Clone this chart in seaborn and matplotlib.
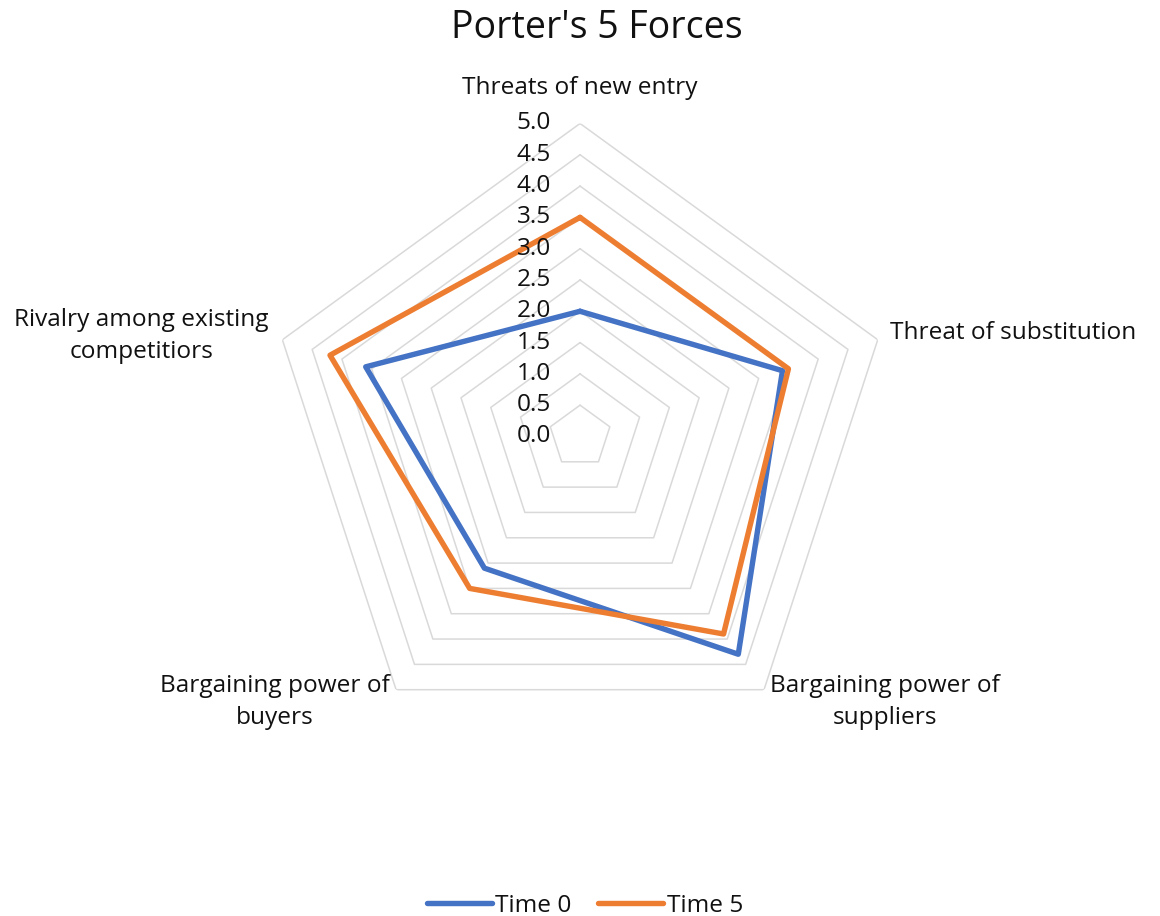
import numpy as np
import pandas as pd
import matplotlib
matplotlib.use("Agg")
import matplotlib.pyplot as plt
import seaborn as sns

# data
categories = ["Threats of new entry", "Threat of substitution",
              "Bargaining power of\nsuppliers", "Bargaining power of\nbuyers",
              "Rivalry among existing\ncompetitiors"]
time0 = [2.0, 3.4, 4.3, 2.6, 3.6]
time5 = [3.5, 3.5, 3.9, 3.0, 4.2]
series_names = ["Time 0", "Time 5"]
levels = [0.0, 0.5, 1.0, 1.5, 2.0, 2.5, 3.0, 3.5, 4.0, 4.5, 5.0]

sns.set_theme(style="white")
plt.rcParams['font.family'] = ['Open Sans', 'DejaVu Sans']
txt = "#111111"
fs = 17.6

n = len(categories)
theta = np.linspace(0, 2 * np.pi, n, endpoint=False)
theta_closed = np.append(theta, theta[0] + 2 * np.pi)

rows = []
for name, vals in zip(series_names, [time0, time5]):
    closed = list(vals) + [vals[0]]
    for t, v in zip(theta_closed, closed):
        rows.append({"theta": t, "value": v, "series": name})
df = pd.DataFrame(rows)

fig = plt.figure(figsize=(11.6, 9.16), dpi=100)
ax = fig.add_axes([0.2302, 0.1818, 0.5397, 0.6834], projection="polar")
ax.set_theta_offset(np.pi / 2)
ax.set_theta_direction(-1)
ax.grid(False)
ax.set_xticks([])
ax.set_yticks([])
ax.spines['polar'].set_visible(False)

# pentagon gridlines
for r in levels[1:]:
    ax.plot(theta_closed, [r] * len(theta_closed), color="#d9d9d9", lw=1.1, zorder=1)

sns.lineplot(data=df, x="theta", y="value", hue="series", sort=False, estimator=None,
             palette=["#4472C4", "#ED7D31"], linewidth=3.9, ax=ax, zorder=3)
ax.set_ylim(0, 5)
ax.set_xlabel("")
ax.set_ylabel("")

handles, labels = ax.get_legend_handles_labels()
ax.get_legend().remove()

# radial value labels along the top axis
for r in levels:
    ax.annotate(f"{r:.1f}", xy=(0, r), xytext=(-29, 0), textcoords="offset pixels",
                ha="right", va="center", fontsize=fs, color=txt, annotation_clip=False)

# category labels
offsets = [((0, 35), "center"), ((12, 7), "left"), ((6, -12), "left"),
           ((-6, -12), "right"), ((-14, 4), "right")]
for t, lab, (off, ha) in zip(theta, categories, offsets):
    ax.annotate(lab, xy=(t, 5.0), xytext=off, textcoords="offset pixels",
                ha=ha, va="center", multialignment="center", fontsize=fs,
                linespacing=1.45, color=txt, annotation_clip=False)

fig.text(596.5 / 1160, 1 - 28 / 916, "Porter's 5 Forces", ha="center", va="center",
         fontsize=27, color=txt)

fig.legend(handles, labels, loc="center", bbox_to_anchor=(585 / 1160, 10 / 916),
           ncol=2, frameon=False, fontsize=fs, handlelength=2.65, handletextpad=0.15,
           columnspacing=1.1, labelcolor=txt)

fig.savefig("out.png", dpi=100, facecolor="white")
